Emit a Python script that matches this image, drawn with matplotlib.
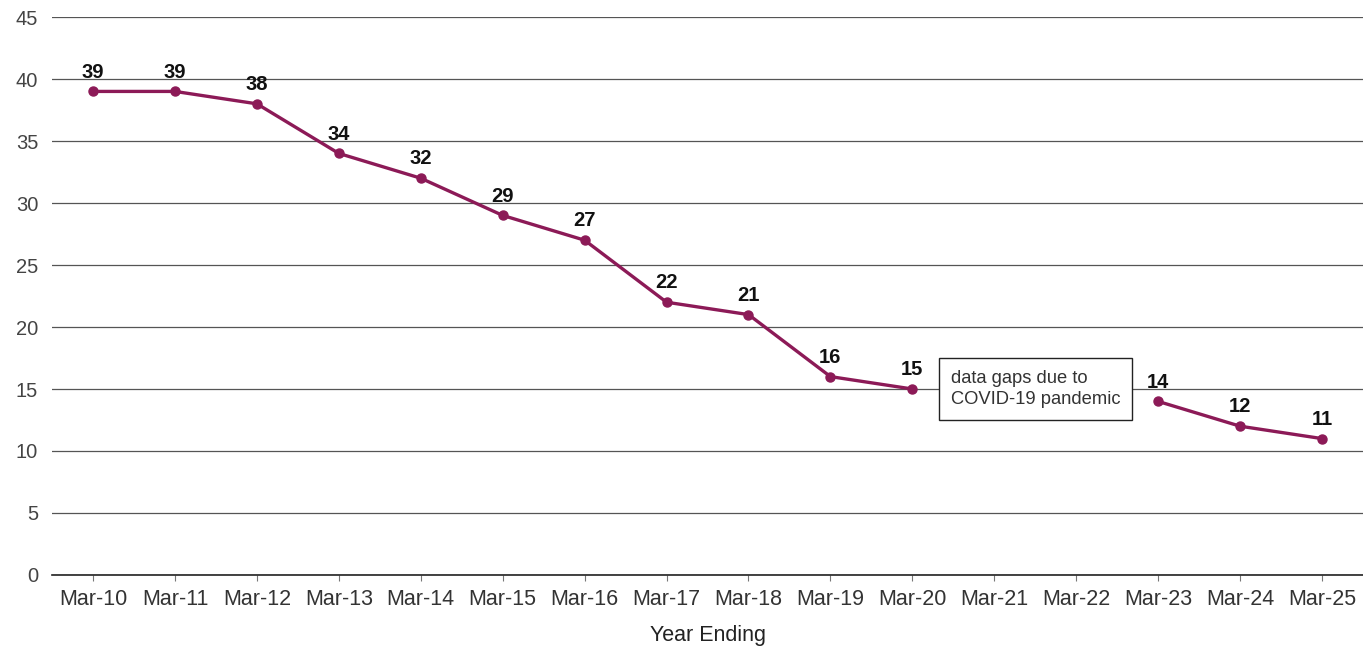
import numpy as np
import matplotlib
matplotlib.use('Agg')
import matplotlib.pyplot as plt

plt.rcParams['font.family'] = ['Liberation Sans', 'DejaVu Sans']

categories = ['Mar-10', 'Mar-11', 'Mar-12', 'Mar-13', 'Mar-14', 'Mar-15', 'Mar-16', 'Mar-17',
              'Mar-18', 'Mar-19', 'Mar-20', 'Mar-21', 'Mar-22', 'Mar-23', 'Mar-24', 'Mar-25']
values = [39, 39, 38, 34, 32, 29, 27, 22, 21, 16, 15, np.nan, np.nan, 14, 12, 11]
yticks = [0, 5, 10, 15, 20, 25, 30, 35, 40, 45]
note = 'data gaps due to\nCOVID-19 pandemic'

line_color = '#8C1A57'

fig = plt.figure(figsize=(13.63, 6.5), dpi=100)
ax = fig.add_axes([0.0382, 0.1154, 0.9618, 0.8584])

x = np.arange(len(categories))
ax.plot(x, values, color=line_color, lw=2.4, marker='o', ms=6.5, zorder=3)

for xi, v in zip(x, values):
    if np.isnan(v):
        continue
    ax.annotate(f'{v:g}', (xi, v), xytext=(0, 7), textcoords='offset points',
                ha='center', va='bottom', fontsize=14.5, fontweight='bold', color='#111111')

# note box in the gap
ax.text(11.5, 15, note, ha='left', va='center', fontsize=13.2, color='#333333',
        linespacing=1.25, zorder=4,
        bbox=dict(boxstyle='square,pad=0.65', fc='white', ec='#222222', lw=1))

ax.set_xlim(-0.5, len(categories) - 0.5)
ax.set_ylim(0, 45)
ax.set_yticks(yticks)
ax.set_xticks(x)
ax.set_xticklabels(categories)
ax.grid(axis='y', color='#555555', lw=0.9)
ax.set_axisbelow(True)

for s in ['top', 'right', 'left']:
    ax.spines[s].set_visible(False)
ax.spines['bottom'].set_color('#222222')
ax.spines['bottom'].set_linewidth(1.2)

ax.tick_params(axis='y', length=0, pad=10, labelsize=14.5, labelcolor='#444444')
ax.tick_params(axis='x', length=4, color='#777777', pad=6, labelsize=15.5, labelcolor='#333333')
ax.set_xlabel('Year Ending', fontsize=15.5, color='#222222', labelpad=11)

# shift note so its box is centred in the gap
fig.canvas.draw()
t = ax.texts[-1]
bb = t.get_window_extent()
x_mid = ax.transData.transform((11.5, 15))[0]
xd = ax.transData.inverted().transform((x_mid - bb.width / 2, 0))[0]
t.set_x(xd)

fig.savefig('out.png', dpi=100)
